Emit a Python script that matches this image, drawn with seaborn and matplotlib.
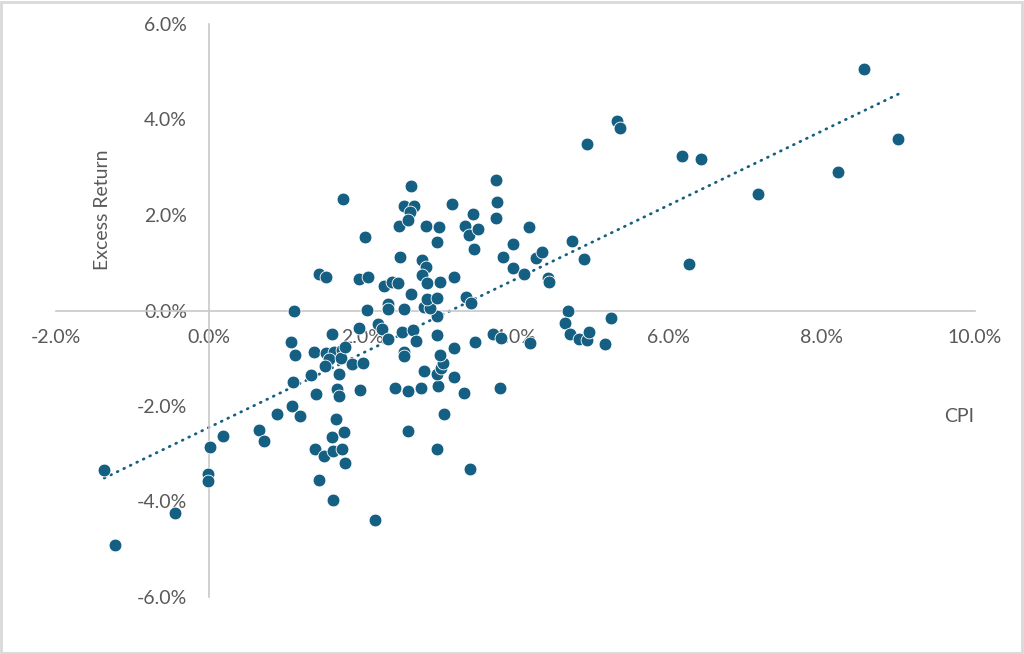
import numpy as np
import pandas as pd
import seaborn as sns
import matplotlib.pyplot as plt
from matplotlib.patches import Rectangle
from matplotlib.ticker import FuncFormatter

# CPI (%) and excess return (%)
cpi = [
    -1.37, -1.23, -0.45, -0.02, -0.02, 0.01, 0.18, 0.65, 0.72, 0.89,
    1.08, 1.19, 1.11, 1.07, 1.12, 1.10, 1.33, 1.39, 1.37, 1.38,
    1.50, 1.43, 1.62, 1.62, 1.74, 1.77, 1.61, 1.76, 1.66, 1.67,
    1.69, 1.69, 1.61, 1.52, 1.63, 1.74, 1.56, 1.72, 1.51, 1.77,
    1.87, 2.01, 1.97, 1.95, 2.20, 2.26, 2.33, 2.52, 2.66, 2.70,
    2.54, 2.54, 2.97, 2.97, 2.43, 2.60, 2.77, 2.99, 2.81, 2.98,
    3.03, 3.05, 3.02, 3.20, 3.20, 3.33, 3.47, 3.70, 3.81, 4.19,
    3.80, 3.07, 2.59, 2.98, 3.40, 2.16, 4.68, 4.65, 4.71, 4.83,
    4.94, 4.96, 5.17, 5.25, 1.75, 1.44, 1.53, 1.96, 2.07, 2.04,
    2.06, 2.28, 2.39, 2.46, 2.64, 2.34, 2.34, 2.54, 2.80, 2.88,
    2.85, 2.98, 2.78, 2.83, 2.78, 2.84, 3.02, 3.20, 2.49, 2.48,
    2.83, 3.00, 2.97, 2.63, 2.55, 2.68, 2.62, 2.60, 3.17, 3.44,
    3.34, 3.39, 3.51, 3.46, 3.74, 3.76, 3.75, 3.84, 3.97, 3.97,
    4.11, 4.18, 4.27, 4.34, 4.42, 4.44, 4.74, 4.89, 4.94, 5.32,
    5.37, 6.17, 6.42, 8.55, 9.00, 8.21, 7.16, 6.26, 3.35, 3.42,
]
excess_return = [
    -3.35, -4.92, -4.24, -3.43, -3.58, -2.86, -2.63, -2.50, -2.73, -2.16,
    -2.01, -2.20, -0.02, -0.66, -0.93, -1.49, -1.35, -1.75, -0.86, -2.91,
    -3.04, -3.54, -3.96, -2.95, -2.91, -3.19, -2.64, -2.55, -2.27, -1.64,
    -1.80, -1.33, -0.49, -0.89, -0.86, -0.82, -1.02, -1.00, -1.17, -0.77,
    -1.12, -1.10, -1.66, -0.36, -0.29, -0.39, -0.60, -0.46, -0.41, -0.63,
    -0.86, -0.96, -0.52, -0.12, -1.62, -1.69, -1.62, -1.59, -1.26, -1.32,
    -1.21, -1.10, -0.93, -0.79, -1.40, -1.72, -0.65, -0.49, -0.58, -0.68,
    -1.63, -2.17, -2.53, -2.90, -3.31, -4.39, 0.00, -0.26, -0.49, -0.60,
    -0.62, -0.45, -0.70, -0.16, 2.34, 0.76, 0.71, 0.66, 0.71, 1.53,
    0.01, 0.52, 0.59, 0.57, 0.34, 0.14, 0.04, 0.04, 0.08, 0.06,
    0.24, 0.27, 1.06, 0.91, 0.75, 0.57, 0.60, 0.71, 1.13, 1.76,
    1.76, 1.74, 1.44, 2.61, 2.18, 2.19, 2.06, 1.90, 2.23, 2.02,
    1.78, 1.58, 1.71, 1.29, 2.73, 2.28, 1.93, 1.13, 1.39, 0.89,
    0.77, 1.74, 1.10, 1.22, 0.68, 0.59, 1.46, 1.08, 3.49, 3.96,
    3.83, 3.24, 3.17, 5.05, 3.60, 2.90, 2.43, 0.97, 0.29, 0.16,
]

x_ticks = [-2, 0, 2, 4, 6, 8, 10]
y_ticks = [-6, -4, -2, 0, 2, 4, 6]

df = pd.DataFrame({'CPI': cpi, 'Excess Return': excess_return})

sns.set_style('white')
plt.rcParams['font.family'] = ['Lato', 'DejaVu Sans']

blue = '#155F82'
grey_txt = '#595959'

fig = plt.figure(figsize=(10.24, 6.54), dpi=100)
ax = fig.add_axes([56 / 1024, 1 - 597 / 654, (975 - 56) / 1024, (597 - 24) / 654])

sns.scatterplot(data=df, x='CPI', y='Excess Return', ax=ax, color=blue,
                s=85, edgecolor='white', linewidth=0.6, zorder=3)
# linear trendline over the data range, drawn dotted like Excel's
sns.regplot(data=df, x='CPI', y='Excess Return', ax=ax, scatter=False, ci=None,
            color=blue, line_kws={'linestyle': (0, (0.3, 2.3)), 'linewidth': 2.0,
                                  'dash_capstyle': 'round'})

ax.set_xlim(-2, 10)
ax.set_ylim(-6, 6)
ax.set_xticks(x_ticks)
ax.set_yticks(y_ticks)
ax.xaxis.set_major_formatter(FuncFormatter(lambda v, p: f'{v:.1f}%'))
ax.yaxis.set_major_formatter(FuncFormatter(lambda v, p: f'{v:.1f}%'))

for side in ['top', 'right']:
    ax.spines[side].set_visible(False)
ax.spines['left'].set_position(('data', 0))
ax.spines['bottom'].set_position(('data', 0))
for side in ['left', 'bottom']:
    ax.spines[side].set_color('#C8C8C8')
    ax.spines[side].set_linewidth(1.2)

ax.tick_params(axis='both', length=0, labelsize=14, colors=grey_txt)
ax.tick_params(axis='x', pad=13)
ax.tick_params(axis='y', pad=16)
ax.set_xlabel('')
ax.set_ylabel('')
ax.patch.set_alpha(0)

fig.text(103 / 1024, 1 - 210 / 654, 'Excess Return', rotation=90, ha='center',
         va='center', fontsize=14, color=grey_txt)
fig.text(959 / 1024, 1 - 417 / 654, 'CPI', ha='center', va='center',
         fontsize=14, color=grey_txt)

fig.patches.append(Rectangle((0.001, 0.002), 0.997, 0.995, transform=fig.transFigure,
                             fill=False, edgecolor='#D9D9D9', linewidth=2))

fig.savefig('out.png', dpi=100)
